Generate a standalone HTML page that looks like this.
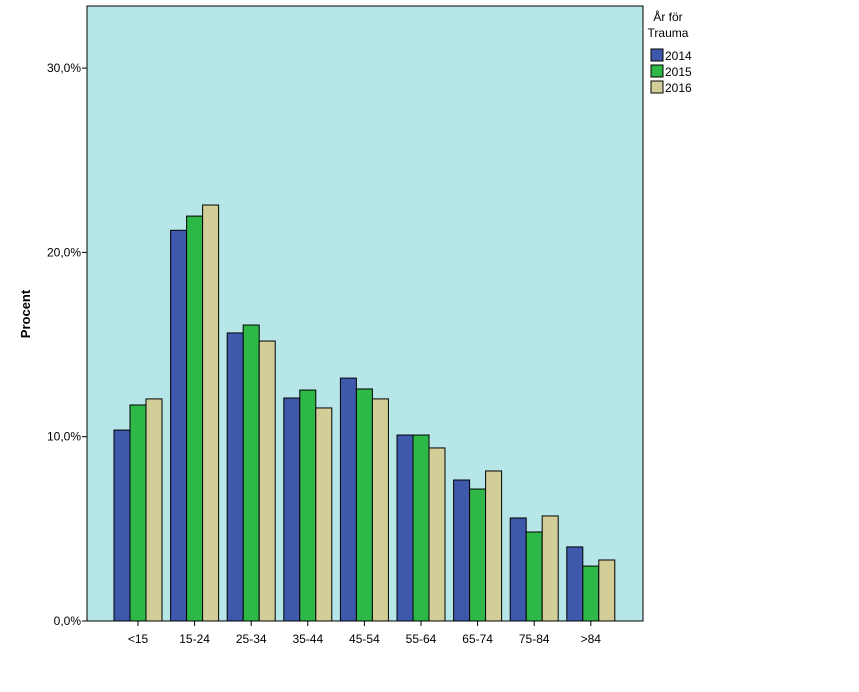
<!DOCTYPE html>
<html><head><meta charset="utf-8"><style>
body{margin:0;background:#fff;font-family:"Liberation Sans",sans-serif}
</style></head><body>
<svg width="859" height="687" xmlns="http://www.w3.org/2000/svg" font-family="Liberation Sans, sans-serif" font-size="12">
<rect x="87" y="6" width="556" height="615" fill="#b6e6e8" stroke="#000" stroke-width="1"/>
<g id="bars"></g><g id="axes"></g>
<text transform="translate(30,314) rotate(-90)" text-anchor="middle" font-weight="bold" font-size="13">Procent</text>
<g>
<text x="668" y="21" text-anchor="middle">År för</text>
<text x="668" y="37" text-anchor="middle">Trauma</text>
<g id="legend"></g>
</g>
</svg>
<script>
const categories=["<15","15-24","25-34","35-44","45-54","55-64","65-74","75-84",">84"];
const seriesNames=["2014","2015","2016"];
const s2014=[10.36,21.2,15.63,12.1,13.18,10.09,7.65,5.59,4.02];
const s2015=[11.72,21.97,16.06,12.53,12.59,10.09,7.16,4.83,2.98];
const s2016=[12.05,22.57,15.19,11.56,12.05,9.39,8.14,5.7,3.31];
const yTicks=[0,10,20,30];
const yTickLabels=["0,0%","10,0%","20,0%","30,0%"];
const colors=["#3e58ac","#2eb848","#d3ce97"];
const NS="http://www.w3.org/2000/svg";
const y=v=>621-v*18.43;
const x=i=>138+i*56.6;
const bw=16;
function mk(t,a,p){const e=document.createElementNS(NS,t);for(const k in a)e.setAttribute(k,a[k]);p.appendChild(e);return e;}
const bars=document.getElementById('bars'),axes=document.getElementById('axes'),leg=document.getElementById('legend');
[s2014,s2015,s2016].forEach((s,si)=>{s.forEach((v,i)=>{
const r=mk('rect',{x:x(i)-bw*1.5+si*bw,y:y(v),width:bw,height:y(0)-y(v),fill:colors[si],stroke:"#000","stroke-width":1},bars);


});});
yTicks.forEach((t,i)=>{
const l=mk('line',{x1:82,x2:87,y1:y(t),y2:y(t),stroke:"#000"},axes);


const tx=mk('text',{x:81,y:y(t)+4,"text-anchor":"end"},axes);tx.textContent=yTickLabels[i];


});
categories.forEach((c,i)=>{
const l=mk('line',{x1:x(i),x2:x(i),y1:621,y2:626,stroke:"#000"},axes);


const tx=mk('text',{x:x(i),y:643,"text-anchor":"middle"},axes);tx.textContent=c;


});
seriesNames.forEach((n,i)=>{
const r=mk('rect',{x:651,y:49+i*16,width:12,height:12,fill:colors[i],stroke:"#000"},leg);


const t=mk('text',{x:665,y:60+i*16},leg);t.textContent=n;


});
</script>
</body></html>
